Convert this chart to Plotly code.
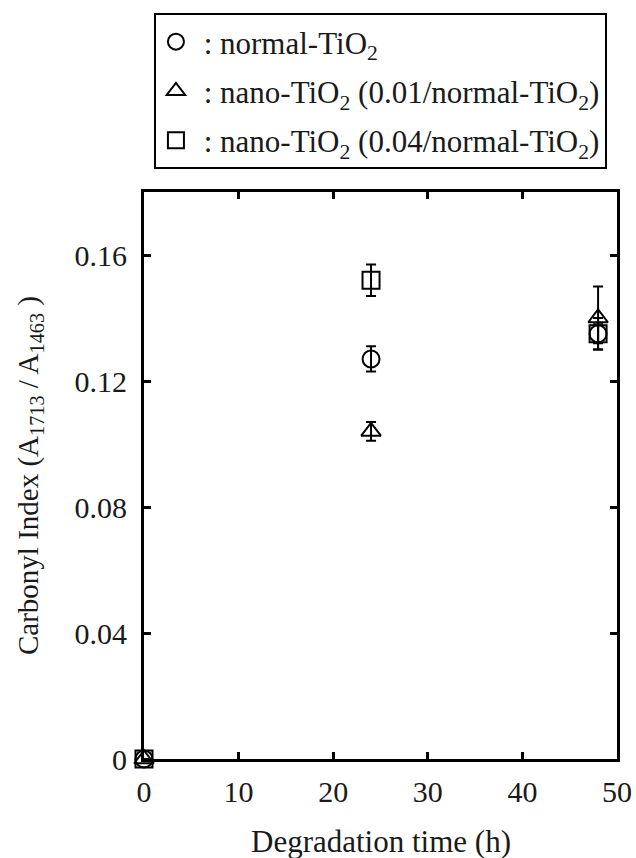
import plotly.graph_objects as go

time_h = [0, 24, 48]
normal_tio2 = [0.0, 0.127, 0.135]
normal_err = [0.0, 0.004, 0.005]
nano_001 = [0.0, 0.104, 0.140]
nano_001_err = [0.0, 0.003, 0.010]
nano_004 = [0.0, 0.152, 0.135]
nano_004_err = [0.0, 0.005, 0.003]

names = ["\u00a0: normal-TiO<sub>2</sub>",
         "\u00a0: nano-TiO<sub>2</sub> (0.01/normal-TiO<sub>2</sub>)",
         "\u00a0: nano-TiO<sub>2</sub> (0.04/normal-TiO<sub>2</sub>)"]
series = [(normal_tio2, normal_err, "circle-open"),
          (nano_001, nano_001_err, "triangle-up-open"),
          (nano_004, nano_004_err, "square-open")]

FONT = "Liberation Serif, Times New Roman, serif"
TXT = "#1a1a1a"
fig = go.Figure()
for i, (name, (vals, errs, sym)) in enumerate(zip(names, series)):
    fig.add_trace(go.Scatter(
        x=time_h, y=vals, name=name, mode="markers", legendgroup=str(i),
        marker=dict(symbol=sym, size=17, color="black", line=dict(width=2, color="black")),
        error_y=dict(type="data", array=errs, visible=True, color="black", thickness=2, width=5),
        cliponaxis=False,
    ))

axis_common = dict(showline=True, linecolor="black", linewidth=3, mirror="ticks",
                   ticks="inside", ticklen=7, tickwidth=3, tickcolor="black",
                   showgrid=False, zeroline=False, automargin=False,
                   tickfont=dict(family=FONT, size=30, color=TXT))
fig.update_xaxes(range=[0, 50], tickvals=[0, 10, 20, 30, 40, 50], ticklabelstandoff=4,
                 **axis_common)
fig.update_yaxes(range=[0, 0.18], tickvals=[0, 0.04, 0.08, 0.12, 0.16],
                 ticktext=["0", "0.04", "0.08", "0.12", "0.16"], ticklabelstandoff=8,
                 title=dict(text="Carbonyl Index (A<sub>1713</sub> / A<sub>1463</sub> )", font=dict(family=FONT, size=29, color=TXT), standoff=28),
                 **axis_common)
fig.add_annotation(text="Degradation time (h)", xref="paper", yref="paper", x=0.5, y=0,
                   xanchor="center", yanchor="top", yshift=-63, showarrow=False,
                   font=dict(family=FONT, size=31, color=TXT))
fig.update_layout(
    width=636, height=858,
    margin=dict(l=144, r=19, t=192, b=99),
    plot_bgcolor="white", paper_bgcolor="white",
    legend=dict(x=0.021, y=1.3157, xanchor="left", yanchor="top",
                bordercolor="black", borderwidth=2, bgcolor="white",
                font=dict(family=FONT, size=31, color=TXT),
                tracegroupgap=6, itemwidth=30),
    showlegend=True,
)
fig.write_html("out.html", config={"displayModeBar": False},
               post_script="document.body.style.margin='0';")
